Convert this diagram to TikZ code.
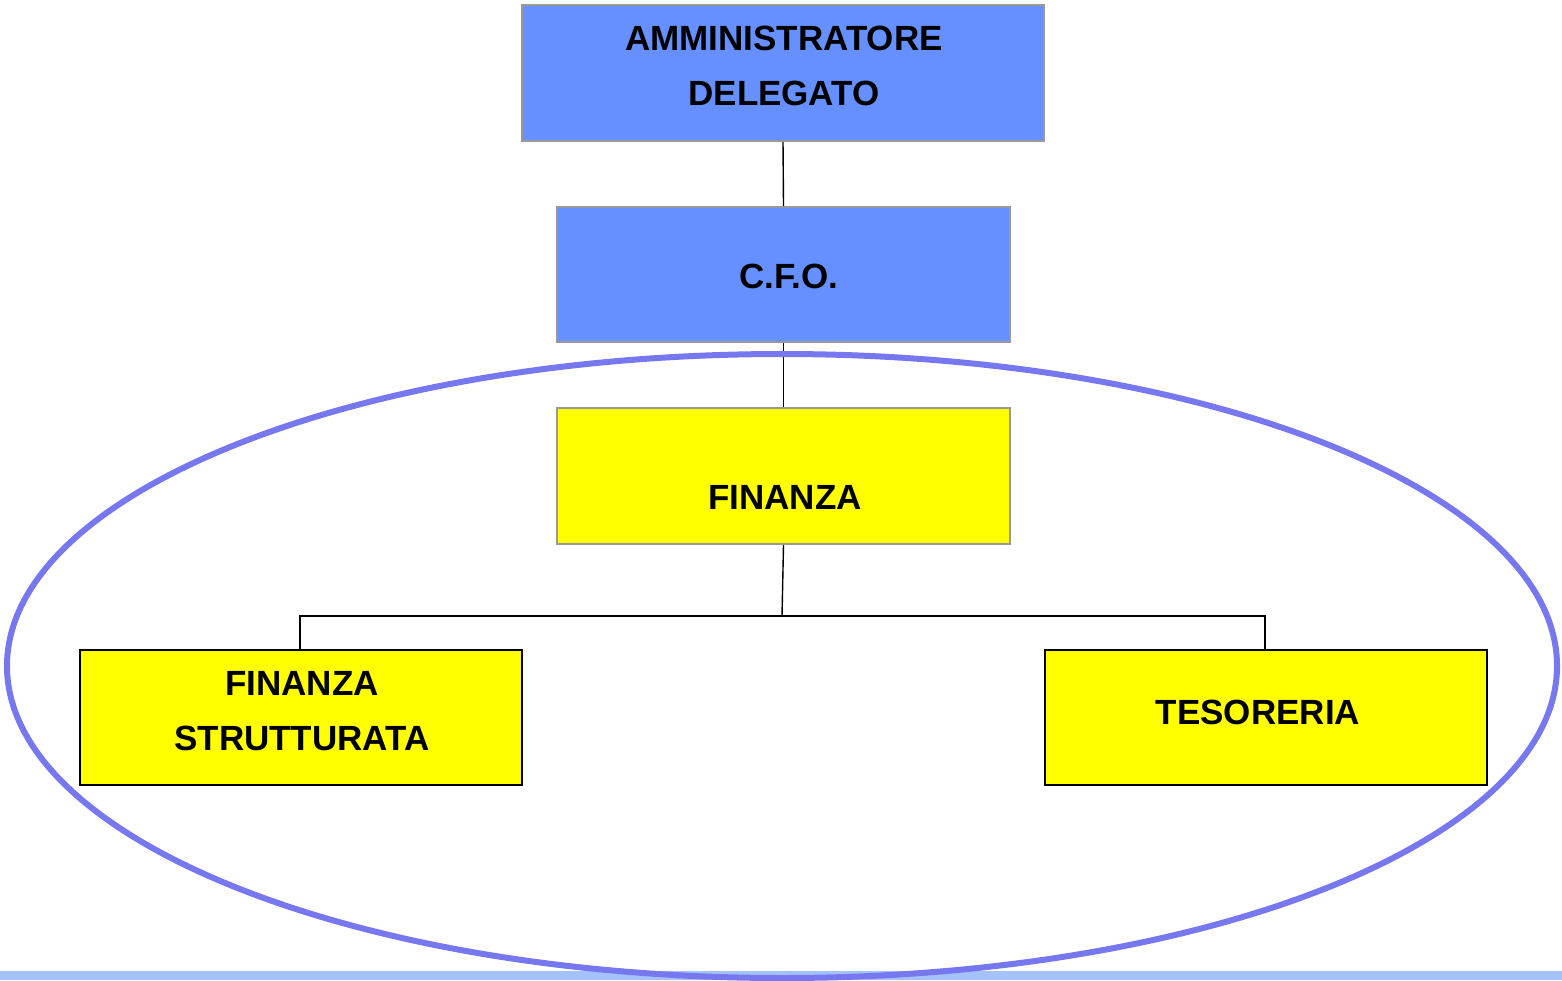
\documentclass[tikz,border=0pt]{standalone}
\usepackage{fontspec}
\setmainfont{Liberation Sans}
\definecolor{bluebox}{HTML}{6690FF}
\definecolor{yel}{HTML}{FFFF00}
\definecolor{ring}{HTML}{7777F0}
\definecolor{strip}{HTML}{A4C2FF}
\definecolor{edge}{HTML}{999999}
\begin{document}
\begin{tikzpicture}[x=0.5pt,y=-0.5pt,
  box/.style={draw=edge,line width=1pt,inner sep=0pt,anchor=north west},
  ybox/.style={draw=black,line width=1pt,fill=yel,inner sep=0pt,anchor=north west},
  lab/.style={font=\fontsize{17.5}{27.5}\selectfont\bfseries,align=center,inner sep=0pt},
  conn/.style={draw=black,line width=0.7pt}]
\useasboundingbox (0,0) rectangle (1562,980);
\fill[strip] (0,971) rectangle (1562,980);
\node[box,fill=bluebox,minimum width=261pt,minimum height=68pt] (ad) at (521,4) {};
\node[box,fill=bluebox,minimum width=226.5pt,minimum height=67.5pt] (cfo) at (556,206) {};
\node[box,fill=yel,minimum width=226.5pt,minimum height=68pt] (fin) at (556,407) {};
\node[ybox,minimum width=221pt,minimum height=67.5pt] (fs) at (79,649) {};
\node[ybox,minimum width=221pt,minimum height=67.5pt] (tes) at (1044,649) {};
\node[lab] (tad) at (784,66) {AMMINISTRATORE\\DELEGATO};
\node[lab] (tcfo) at (789,276) {C.F.O.};
\node[lab] (tfin) at (785,497) {FINANZA};
\node[lab] (tfs) at (302,711) {FINANZA\\STRUTTURATA};
\node[lab] (ttes) at (1258,712) {TESORERIA};
\coordinate (j) at (782,616);
\draw[conn] (ad.south) -- (cfo.north);
\draw[conn] (cfo.south) -- (fin.north);
\draw[conn] (fin.south) -- (j);
\draw[conn] (j) -| (fs.north -| 300,0);
\draw[conn] (j) -| (tes.north -| 1265,0);
\draw[ring,line width=3pt] (782,666) ellipse [x radius=775, y radius=312];
\end{tikzpicture}
\end{document}
